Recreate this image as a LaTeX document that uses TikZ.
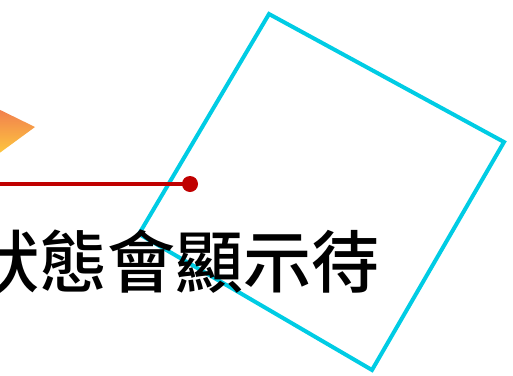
\documentclass[tikz,border=0pt]{standalone}
\usepackage{fontspec}
\newfontfamily\cjk{Noto Sans CJK TC}[BoldFont={Noto Sans CJK TC Medium}]
\definecolor{sqcyan}{RGB}{0,204,228}
\definecolor{linered}{RGB}{192,0,0}
\definecolor{triorange}{RGB}{240,120,80}
\definecolor{triyellow}{RGB}{255,210,60}
\begin{document}
\begin{tikzpicture}[x=1pt,y=-1pt,
  sqline/.style={draw=sqcyan,line width=4pt,line join=miter},
  redline/.style={draw=linered,line width=4pt},
  reddot/.style={fill=linered},
  label/.style={font=\cjk\bfseries\fontsize{68}{68}\selectfont,inner sep=0pt,text=black}]
\useasboundingbox (0,0) rectangle (513,375);
\coordinate (ta) at (-10,105);
\coordinate (tb) at (35,127);
\coordinate (tc) at (-10,160);
\shade[top color=triorange,bottom color=triyellow] (ta) -- (tb) -- (tc) -- cycle;
\coordinate (s1) at (269,14);
\coordinate (s2) at (504,142);
\coordinate (s3) at (372,370);
\coordinate (s4) at (139,234);
\draw[sqline] (s1) -- (s2) -- (s3) -- (s4) -- cycle;
\coordinate (r0) at (-5,184);
\node[reddot,circle,minimum size=16pt,inner sep=0pt] (dot) at (190,184) {};
\draw[redline] (r0) -- (dot.center);
\node[label,anchor=base east] (txt) at (380,287) {狀態會顯示待};
\end{tikzpicture}
\end{document}
